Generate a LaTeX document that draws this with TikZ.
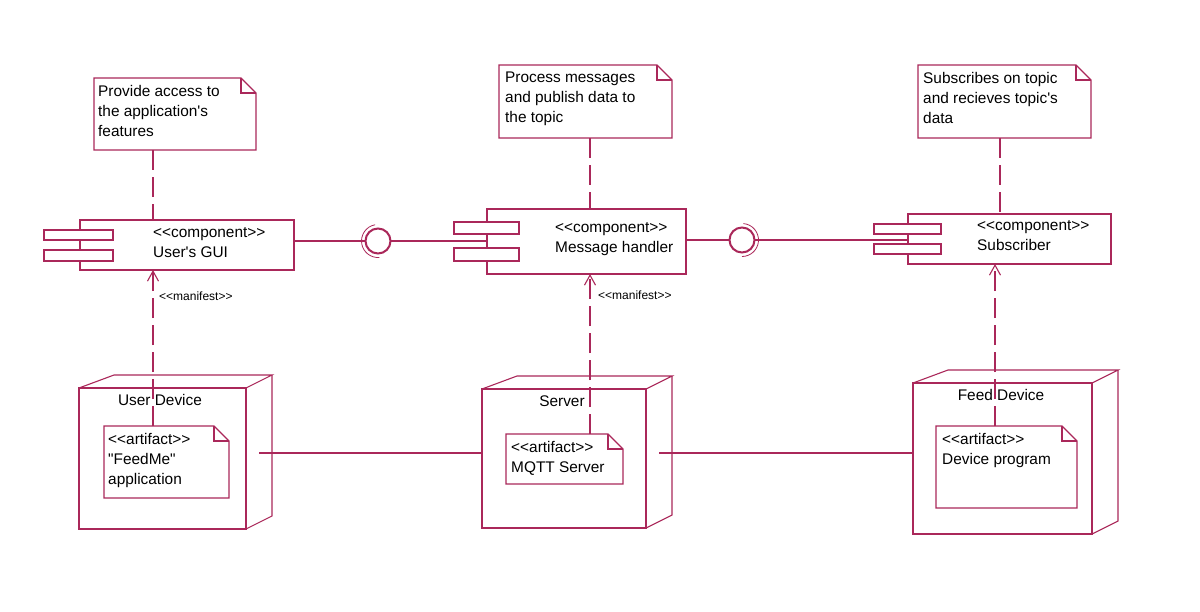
\documentclass[tikz,border=0pt]{standalone}
\usepackage{fontspec}
\setmainfont{Liberation Sans}[Ligatures=TeXOff]
\usetikzlibrary{arrows.meta,calc}
\definecolor{uml}{RGB}{170,40,90}
\newcommand\umlnote[1]{%
  \draw[ln, fill=white] (#1.north west) -- ([xshift=-15pt]#1.north east) -- ([yshift=-15pt]#1.north east) -- (#1.south east) -- (#1.south west) -- cycle;
  \draw[ln] ([xshift=-15pt]#1.north east) -- ([xshift=-15pt,yshift=-15pt]#1.north east) -- ([yshift=-15pt]#1.north east);}
\newcommand\umlcube[1]{%
  \draw[ln] (#1.north west) -- ++(35,-13) -- ($(#1.north east)+(26,-13)$) -- (#1.north east);
  \draw[ln] ($(#1.north east)+(26,-13)$) -- ($(#1.south east)+(26,-13)$) -- (#1.south east);
  \draw[ln, line width=1.8pt] (#1.north east) -- (#1.south east);}
\begin{document}
\begin{tikzpicture}[x=1pt,y=-1pt,
  ln/.style={draw=uml, line width=1.1pt},
  box/.style={ln, fill=white, inner sep=0pt, outer sep=0pt, anchor=north west, rectangle},
  notebg/.style={inner sep=0pt, outer sep=0pt, anchor=north west, rectangle},
  dsh/.style={ln, dash pattern=on 20pt off 7pt},
  txt/.style={inner sep=0pt, anchor=base west, font=\fontsize{15.4pt}{20pt}\selectfont},
  ml/.style={inner sep=0pt, anchor=north west, align=left, font=\fontsize{15.4pt}{20pt}\selectfont},
  small/.style={inner sep=0pt, anchor=base west, font=\fontsize{12pt}{14pt}\selectfont},
  iface/.style={circle, draw=uml, line width=2pt, minimum size=25pt, inner sep=0pt, fill=white},
  socket/.style={draw=uml, line width=0.8pt},
  manif/.style={dsh, -{Straight Barb[length=10pt, width=11pt]}}
]
\fill[white] (0,0) rectangle (1200,611);
\useasboundingbox (0,0) rectangle (1200,611);

% ---------- notes ----------
\node[notebg, minimum width=162pt, minimum height=72pt] (n1) at (94,78) {};
\umlnote{n1}
\node[ml] (n1t) at (98,83) {\rule{0pt}{13pt}Provide access to\\the application's\\features};

\node[notebg, minimum width=173pt, minimum height=73pt] (n2) at (499,65) {};
\umlnote{n2}
\node[ml] (n2t) at (505,69) {\rule{0pt}{13pt}Process messages\\and publish data to\\the topic};

\node[notebg, minimum width=173pt, minimum height=73pt] (n3) at (918,65) {};
\umlnote{n3}
\node[ml] (n3t) at (923,70) {\rule{0pt}{13pt}Subscribes on topic\\and recieves topic's\\data};

% ---------- components ----------
\node[box, minimum width=214pt, minimum height=50pt] (c1) at (80,220) {};
\node[box, minimum width=69pt, minimum height=10pt] (c1a) at (44,230) {};
\node[box, minimum width=69pt, minimum height=11pt] (c1b) at (44,250) {};
\node[ml] (c1t) at (153,224) {\rule{0pt}{13pt}<<component>>\\User's GUI};

\node[box, minimum width=199pt, minimum height=65pt] (c2) at (487,209) {};
\node[box, minimum width=65pt, minimum height=12pt] (c2a) at (454,222) {};
\node[box, minimum width=65pt, minimum height=13pt] (c2b) at (454,248) {};
\node[ml] (c2t) at (555,219) {\rule{0pt}{13pt}<<component>>\\Message handler};

\node[box, minimum width=203pt, minimum height=50pt] (c3) at (908,214) {};
\node[box, minimum width=67pt, minimum height=10pt] (c3a) at (874,224) {};
\node[box, minimum width=67pt, minimum height=10pt] (c3b) at (874,244) {};
\node[ml] (c3t) at (977,217) {\rule{0pt}{13pt}<<component>>\\Subscriber};

% ---------- interfaces ----------
\coordinate (l1p) at (378,241);
\coordinate (l2p) at (742,240);
\draw[ln] (c1.east |- l1p) -- (l1p);
\draw[ln] (l1p) -- (c2.west |- l1p);
\draw[ln] (c2.east |- l2p) -- (l2p);
\draw[ln] (l2p) -- (c3.west |- l2p);
\node[iface] (l1) at (l1p) {};
\node[iface] (l2) at (l2p) {};
\draw[socket] ([shift={(100:16.5pt)}]l1.center) arc[start angle=100, end angle=275, radius=16.5pt];
\draw[socket] ([shift={(85:16.5pt)}]l2.center) arc[start angle=85, end angle=-90, radius=16.5pt];

% ---------- deployment nodes ----------
\node[box, minimum width=167pt, minimum height=141pt] (d1) at (79,388) {};
\umlcube{d1}
\node[txt, anchor=base] (d1t) at (160,405) {User Device};
\node[notebg, minimum width=125pt, minimum height=72pt] (a1) at (104,426) {};
\umlnote{a1}
\node[ml] (a1t) at (108,431) {\rule{0pt}{13pt}<<artifact>>\\"FeedMe"\\application};

\node[box, minimum width=164pt, minimum height=139pt] (d2) at (482,389) {};
\umlcube{d2}
\node[txt, anchor=base] (d2t) at (562,406) {Server};
\node[notebg, minimum width=117pt, minimum height=50pt] (a2) at (506,434) {};
\umlnote{a2}
\node[ml] (a2t) at (511,439) {\rule{0pt}{13pt}<<artifact>>\\MQTT Server};

\node[box, minimum width=179pt, minimum height=151pt] (d3) at (913,383) {};
\umlcube{d3}
\node[txt, anchor=base] (d3t) at (1001,400) {Feed Device};
\node[notebg, minimum width=141pt, minimum height=82pt] (a3) at (936,426) {};
\umlnote{a3}
\node[ml] (a3t) at (942,431) {\rule{0pt}{13pt}<<artifact>>\\Device program};

% ---------- links between nodes ----------
\coordinate (d1s) at (259,453);
\coordinate (d2s) at (659,453);
\draw[ln] (d1s) -- (d2.west |- d1s);
\draw[ln] (d2s) -- (d3.west |- d2s);

% ---------- note anchors ----------
\coordinate (x1) at (153,0);
\coordinate (x2) at (590,0);
\coordinate (x3) at (1000,0);
\coordinate (x3m) at (995,0);
\draw[dsh] (n1.south -| x1) -- (c1.north -| x1);
\draw[dsh] (n2.south -| x2) -- (c2.north -| x2);
\draw[dsh] (n3.south -| x3) -- (c3.north -| x3);

% ---------- manifest ----------
\draw[manif] (a1.north -| x1) -- (c1.south -| x1);
\draw[manif] (a2.north -| x2) -- (c2.south -| x2);
\draw[manif] (a3.north -| x3m) -- (c3.south -| x3m);
\node[small] (m1) at (159,300) {<<manifest>>};
\node[small] (m2) at (598,299) {<<manifest>>};
\end{tikzpicture}
\end{document}
